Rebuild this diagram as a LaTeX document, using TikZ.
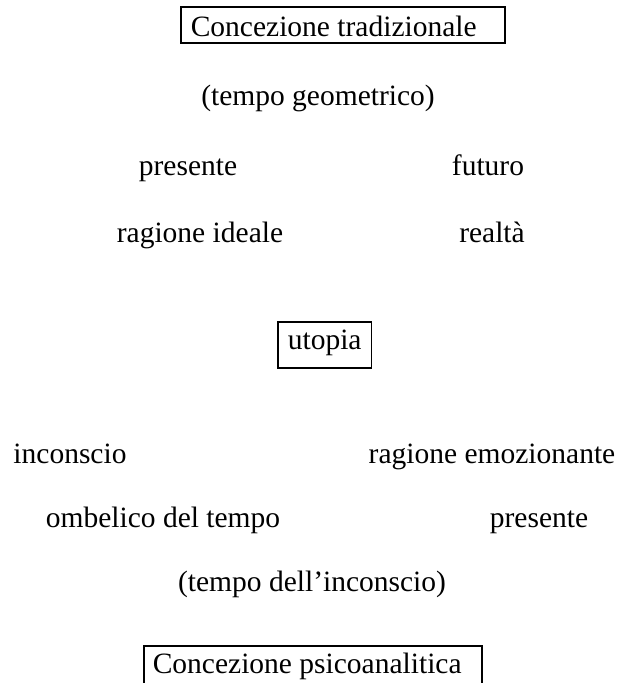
\documentclass[tikz,border=0pt]{standalone}
\usepackage{fontspec}
\setmainfont{Liberation Serif}
\usepackage{tikz}

\tikzset{
  word/.style={anchor=base, inner sep=0pt, font=\fontsize{29.5}{35}\selectfont},
  frame/.style={draw, line width=1.6pt, anchor=base west, inner xsep=10pt,
    inner ysep=6pt, font=\fontsize{29.5}{35}\selectfont}
}

\begin{document}
\begin{tikzpicture}[x=1pt,y=-1pt]
    \useasboundingbox (0,0) rectangle (626,683);
    % concezione tradizionale
    \node[frame, text height=23pt, text depth=1pt] (trad) at (180,36) {\makebox[304pt][l]{Concezione tradizionale}};
    \node[word] (geom) at (318,105) {(tempo geometrico)};
    \node[word] (pres1) at (188,175) {presente};
    \node[word] (fut) at (488,175) {futuro};
    \node[word] (ideale) at (200,242) {ragione ideale};
    \node[word] (real) at (492,242) {realtà};
    % utopia
    \node[frame, text height=21pt, text depth=13pt] (utop) at (277,349) {utopia};
    % concezione psicoanalitica
    \node[word] (incons) at (70,463) {inconscio};
    \node[word] (emoz) at (492,463) {ragione emozionante};
    \node[word] (omb) at (163,527) {ombelico del tempo};
    \node[word] (pres2) at (539,527) {presente};
    \node[word] (tincons) at (312,591) {(tempo dell’inconscio)};
    \node[frame, inner xsep=9pt, text height=21pt, text depth=30pt] (psico) at (143,673) {\makebox[320pt][l]{Concezione psicoanalitica}};
\end{tikzpicture}
\end{document}
